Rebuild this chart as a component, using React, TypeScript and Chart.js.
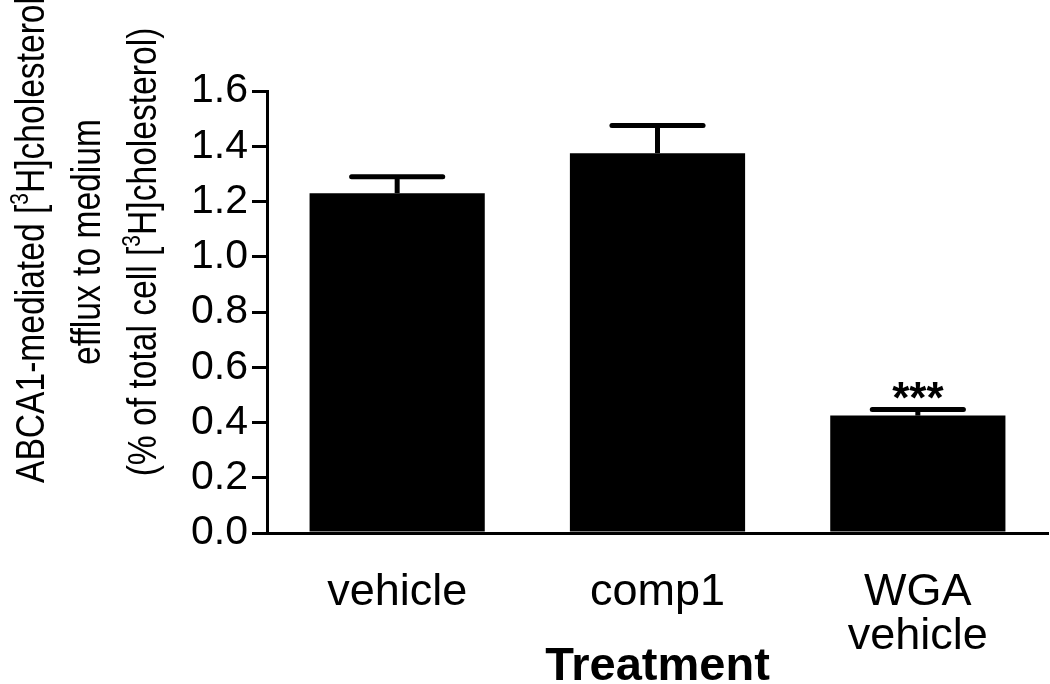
import React, { useEffect, useRef } from 'react';
import { Chart, registerables } from 'chart.js';

Chart.register(...registerables);

// ---- data ----
const categories: string[][] = [['vehicle'], ['comp1'], ['WGA', 'vehicle']];
const meanEfflux: number[] = [1.23, 1.375, 0.425];
const semEfflux: number[] = [0.06, 0.1, 0.022];
const significance: string[] = ['', '', '***'];
const yMin = 0;
const yMax = 1.6;
const yStep = 0.2;
const xTitle = 'Treatment';
// segments: odd indexes are superscripts
const yTitleLines: string[][] = [
  ['ABCA1-mediated [', '3', 'H]cholesterol'],
  ['efflux to medium'],
  ['(% of total cell [', '3', 'H]cholesterol)'],
];

const SANS = "'Liberation Sans', Arial, sans-serif";

const overlayPlugin = {
  id: 'overlay',
  afterDatasetsDraw(chart: any) {
    const { ctx } = chart;
    const yScale = chart.scales.y;
    const meta = chart.getDatasetMeta(0);
    ctx.save();
    meta.data.forEach((bar: any, i: number) => {
      const x = bar.x;
      const yTop = yScale.getPixelForValue(meanEfflux[i]);
      const yErr = yScale.getPixelForValue(meanEfflux[i] + semEfflux[i]);
      const capHalf = bar.width * 0.26;
      ctx.strokeStyle = '#000';
      ctx.lineWidth = 5;
      ctx.lineCap = 'butt';
      ctx.beginPath();
      ctx.moveTo(x, yTop);
      ctx.lineTo(x, yErr);
      ctx.stroke();
      ctx.lineCap = 'round';
      ctx.beginPath();
      ctx.moveTo(x - capHalf, yErr);
      ctx.lineTo(x + capHalf, yErr);
      ctx.stroke();
      if (significance[i]) {
        ctx.fillStyle = '#000';
        ctx.font = `bold 44px ${SANS}`;
        ctx.textAlign = 'center';
        ctx.textBaseline = 'alphabetic';
        ctx.fillText(significance[i], x, yErr + 3);
      }
    });
    ctx.restore();
  },
  afterDraw(chart: any) {
    const { ctx } = chart;
    const size = 40;
    const supSize = Math.round(size * 0.62);
    const squeeze = 0.84;
    const baselines = [44, 100, 156];
    const centers = [240, 242, 252];
    ctx.save();
    ctx.fillStyle = '#000';
    ctx.textBaseline = 'alphabetic';
    ctx.textAlign = 'left';
    yTitleLines.forEach((segs, li) => {
      const widths = segs.map((s, si) => {
        ctx.font = si % 2 === 1 ? `${supSize}px ${SANS}` : `${size}px ${SANS}`;
        return ctx.measureText(s).width;
      });
      const total = widths.reduce((a, b) => a + b, 0);
      ctx.save();
      ctx.translate(baselines[li], centers[li]);
      ctx.rotate(-Math.PI / 2);
      ctx.scale(squeeze, 1);
      let px = -total / 2;
      segs.forEach((s, si) => {
        const sup = si % 2 === 1;
        ctx.font = sup ? `${supSize}px ${SANS}` : `${size}px ${SANS}`;
        ctx.fillText(s, px, sup ? -size * 0.4 : 0);
        px += widths[si];
      });
      ctx.restore();
    });
    ctx.restore();
  },
};

export default function App() {
  const canvasRef = useRef<HTMLCanvasElement | null>(null);

  useEffect(() => {
    if (!canvasRef.current) return;
    const chart = new Chart(canvasRef.current, {
      type: 'bar',
      data: {
        labels: categories,
        datasets: [
          {
            data: meanEfflux,
            backgroundColor: '#000',
            borderWidth: 0,
            categoryPercentage: 1,
            barPercentage: 0.673,
          },
        ],
      },
      options: {
        animation: false,
        responsive: false,
        layout: { padding: { left: 0, right: 2, top: 91, bottom: 0 } },
        plugins: {
          legend: { display: false },
          tooltip: { enabled: false },
          title: { display: false },
        },
        scales: {
          x: {
            type: 'category',
            offset: true,
            grid: { display: false, drawTicks: false, tickLength: 0 },
            border: { display: true, color: '#000', width: 3 },
            ticks: {
              color: '#000',
              font: { family: SANS, size: 45, lineHeight: 0.978 },
              padding: 38,
              maxRotation: 0,
              autoSkip: false,
            },
            title: {
              display: true,
              text: xTitle,
              color: '#000',
              font: { family: SANS, size: 47, weight: 'bold', lineHeight: 0.72 },
              padding: { top: 0, bottom: 0 },
            },
            afterFit: (scale: any) => {
              scale.height = 151;
            },
          },
          y: {
            min: yMin,
            max: yMax,
            grid: {
              display: true,
              drawOnChartArea: false,
              drawTicks: true,
              tickLength: 15,
              color: '#000',
              lineWidth: 3,
            },
            border: { display: true, color: '#000', width: 3 },
            ticks: {
              stepSize: yStep,
              color: '#000',
              font: { family: SANS, size: 41 },
              padding: 4,
              callback: (v: any) => Number(v).toFixed(1),
            },
            afterFit: (scale: any) => {
              scale.width = 267;
            },
          },
        },
      },
      plugins: [overlayPlugin],
    });
    return () => chart.destroy();
  }, []);

  return (
    <div style={{ position: 'absolute', left: 0, top: 0, width: 1050, height: 684, background: '#fff' }}>
      <canvas ref={canvasRef} width={1050} height={684} />
    </div>
  );
}
